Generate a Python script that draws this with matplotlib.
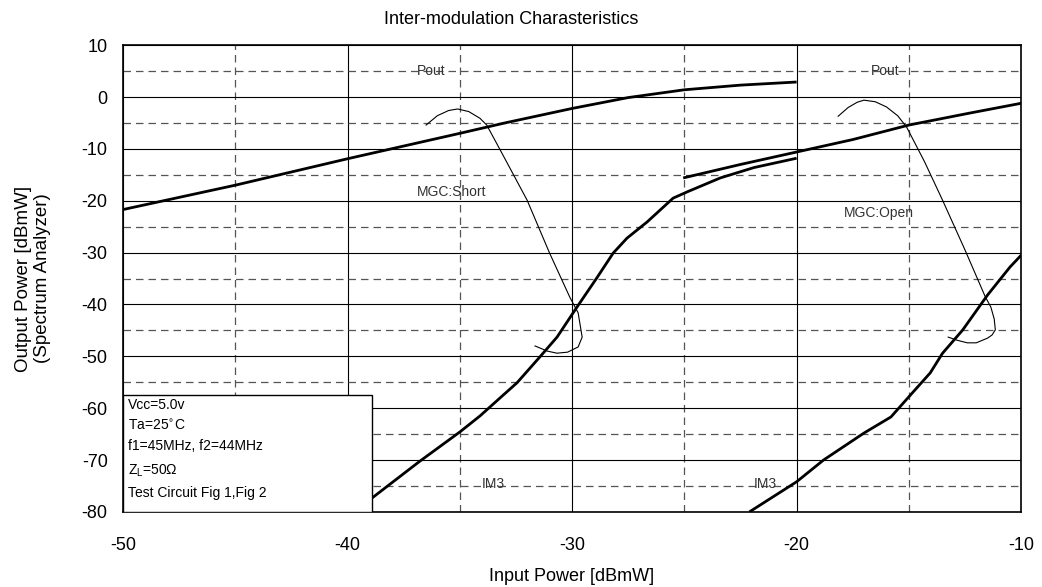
import matplotlib.pyplot as plt
import numpy as np

plt.rcParams['font.family'] = ['Liberation Sans', 'DejaVu Sans']
plt.rcParams['axes.unicode_minus'] = False

# thick curves
pout_short_x = [-50, -45, -40, -35, -33, -30, -27.5, -25, -22.5, -20]
pout_short_y = [-21.7, -17.0, -11.9, -7.0, -5.0, -2.2, -0.1, 1.4, 2.3, 2.9]

im3_short_x = [-39.6, -38.9, -36.8, -35.0, -34.1, -33.2, -32.45, -31.43, -30.67, -29.78,
               -28.9, -28.17, -27.55, -26.66, -25.5, -24.88, -23.4, -21.9, -20.0]
im3_short_y = [-80.0, -77.3, -70.3, -64.6, -61.5, -58.0, -55.1, -50.1, -46.3, -40.5,
               -34.9, -30.1, -27.2, -24.1, -19.5, -18.3, -15.6, -13.6, -11.8]

pout_open_x = [-25.05, -22.5, -20.0, -17.5, -15.0, -12.3, -10.0]
pout_open_y = [-15.6, -13.0, -10.6, -8.2, -5.4, -3.1, -1.2]

im3_open_x = [-22.1, -20.0, -18.8, -17.0, -15.8, -15.0, -14.05, -13.5, -12.6, -11.5,
              -10.5, -10.0]
im3_open_y = [-80.0, -74.2, -70.0, -64.8, -61.7, -57.8, -53.2, -49.4, -44.9, -38.2,
              -32.8, -30.5]

# thin pointer curves
arc_short_x = [-36.5, -36.0, -35.5, -35.1, -34.6, -34.1, -33.8, -33.2, -32.0, -31.0,
               -30.1, -29.73, -29.55, -29.73, -30.2, -30.67, -31.1, -31.65]
arc_short_y = [-5.4, -3.6, -2.6, -2.3, -2.8, -4.1, -5.4, -10.2, -19.9, -30.1,
               -38.6, -41.6, -46.3, -48.2, -49.2, -49.4, -49.0, -48.0]

arc_open_x = [-18.15, -17.7, -17.3, -17.0, -16.5, -16.0, -15.5, -15.1, -14.3, -13.5,
              -12.5, -11.6, -11.35, -11.2, -11.15, -11.3, -11.5, -12.0, -12.4, -12.85, -13.25]
arc_open_y = [-3.7, -2.0, -1.0, -0.6, -0.9, -1.9, -3.6, -5.8, -12.5, -19.9,
              -29.5, -38.5, -40.5, -42.8, -44.9, -45.9, -46.5, -47.4, -47.4, -46.9, -46.3]

fig = plt.figure(figsize=(10.42, 5.87), dpi=100)
ax = fig.add_axes([0.118, 0.128, 0.862, 0.795])

ax.set_xlim(-50, -10)
ax.set_ylim(-80, 10)
ax.set_xticks(np.arange(-50, -9, 10))
ax.set_yticks(np.arange(-80, 11, 10))
ax.set_xticks(np.arange(-45, -10, 10), minor=True)
ax.set_yticks(np.arange(-75, 10, 10), minor=True)
ax.grid(which='major', color='black', lw=0.8, ls='-')
ax.grid(which='minor', color='#555555', lw=0.9, ls=(0, (6, 4)))
ax.tick_params(which='both', length=0, labelsize=13)
ax.tick_params(axis='x', pad=18)
ax.tick_params(axis='y', pad=11)
for s in ax.spines.values():
    s.set_linewidth(1.2)

for xs, ys in [(pout_short_x, pout_short_y), (im3_short_x, im3_short_y),
               (pout_open_x, pout_open_y), (im3_open_x, im3_open_y)]:
    ax.plot(xs, ys, color='black', lw=2.0, solid_capstyle='butt')
for xs, ys in [(arc_short_x, arc_short_y), (arc_open_x, arc_open_y)]:
    ax.plot(xs, ys, color='black', lw=0.8)

lbl = dict(fontsize=10, color='#333333', va='center')
ax.text(-36.9, 5, 'Pout', **lbl)
ax.text(-16.7, 5, 'Pout', **lbl)
ax.text(-36.9, -18.3, 'MGC:Short', **lbl)
ax.text(-17.9, -22.3, 'MGC:Open', **lbl)
ax.text(-34.0, -74.6, 'IM3', **lbl)
ax.text(-21.9, -74.6, 'IM3', **lbl)

box = plt.Rectangle((0, 0), 0.277, 0.25, transform=ax.transAxes,
                    facecolor='white', edgecolor='black', lw=1.0, zorder=5)
ax.add_patch(box)
info = ['Vcc=5.0v', 'Ta=25$^{\\circ}$C', 'f1=45MHz, f2=44MHz',
        '$\\mathregular{Z_L}$=50\u03a9', 'Test Circuit Fig 1,Fig 2']
info_y = [0.229, 0.184, 0.141, 0.088, 0.041]
for t, yy in zip(info, info_y):
    ax.text(0.006, yy, t, transform=ax.transAxes, fontsize=10, va='center', zorder=6)

fig.text(0.491, 0.966, 'Inter-modulation Charasteristics', fontsize=13,
         ha='center', va='center')
ax.set_xlabel('Input Power [dBmW]', fontsize=13, labelpad=10)
ax.set_ylabel('Output Power [dBmW]\n(Spectrum Analyzer)', fontsize=13.5,
              labelpad=22, linespacing=1.15)

fig.savefig('out.png', dpi=100)
